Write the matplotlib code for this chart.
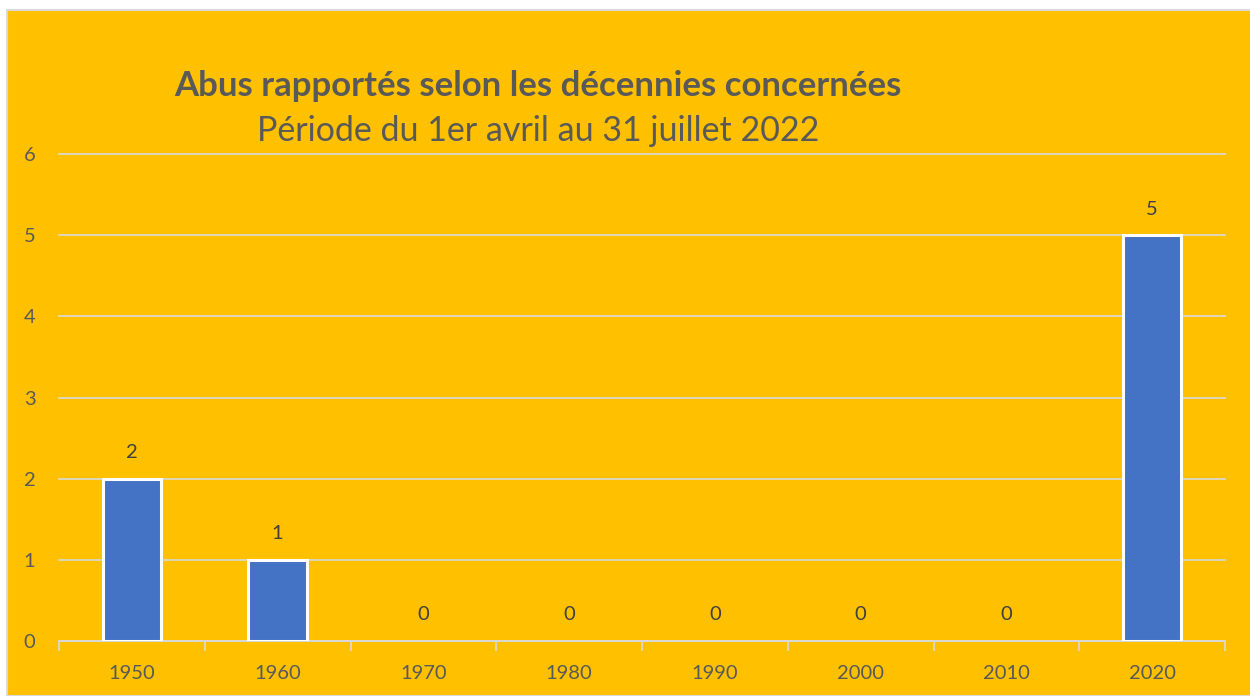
import matplotlib.pyplot as plt
import numpy as np
from matplotlib.patches import Rectangle

decennies = ['1950', '1960', '1970', '1980', '1990', '2000', '2010', '2020']
abus = [2, 1, 0, 0, 0, 0, 0, 5]
graduations = [0, 1, 2, 3, 4, 5, 6]

titre = 'Abus rapportés selon les décennies concernées'
sous_titre = 'Période du 1er avril au 31 juillet 2022'

plt.rcParams['font.family'] = ['Lato', 'DejaVu Sans']

fond = '#FFC000'
gris = '#D9D9D9'
texte = '#595959'

fig = plt.figure(figsize=(12.5, 6.96), dpi=100)
fig.patch.set_facecolor('white')
fig.patches.append(Rectangle((7 / 1250, 0), 1, 1 - 10 / 696, transform=fig.transFigure,
                             facecolor=fond, edgecolor=gris, linewidth=1.5, zorder=-1))

ax = fig.add_axes([59 / 1250, 1 - 641 / 696, (1225 - 59) / 1250, (641 - 154) / 696])
ax.set_zorder(1)
ax.set_facecolor('none')

x = np.arange(len(decennies))
barres = ax.bar(x, abus, width=0.4, color='#4472C4', edgecolor='white', linewidth=2.2, zorder=3)
for b, v in zip(barres, abus):
    if v == 0:
        b.set_linewidth(0)
for xi, v in zip(x, abus):
    ax.annotate(str(v), (xi, v), xytext=(0, 26), textcoords='offset pixels',
                ha='center', va='center', fontsize=14.5, color='#404040')

ax.set_xlim(-0.5, len(decennies) - 0.5)
ax.set_ylim(0, 6)
ax.set_yticks(graduations)
ax.set_xticks(x)
ax.set_xticklabels(decennies)
ax.set_xticks(np.arange(-0.5, len(decennies)), minor=True)
ax.tick_params(axis='x', which='major', length=0, pad=17, labelsize=14.5, labelcolor=texte)
ax.tick_params(axis='x', which='minor', length=7, width=1.2, color=gris)
ax.tick_params(axis='y', length=0, pad=17, labelsize=14.5, labelcolor=texte)

ax.grid(axis='y', color=gris, linewidth=1.2, zorder=0)
ax.set_axisbelow(True)
for s in ['top', 'right', 'left']:
    ax.spines[s].set_visible(False)
ax.spines['bottom'].set_color(gris)
ax.spines['bottom'].set_linewidth(1.2)
for line in ax.get_ygridlines():
    line.set_clip_on(False)

fig.text(538 / 1250, 1 - 86 / 696, titre, ha='center', va='center',
         fontsize=25, fontweight='bold', color=texte)
fig.text(538 / 1250, 1 - 131 / 696, sous_titre, ha='center', va='center',
         fontsize=24.5, color=texte)

fig.savefig('out.png', dpi=100, facecolor=fig.get_facecolor())
